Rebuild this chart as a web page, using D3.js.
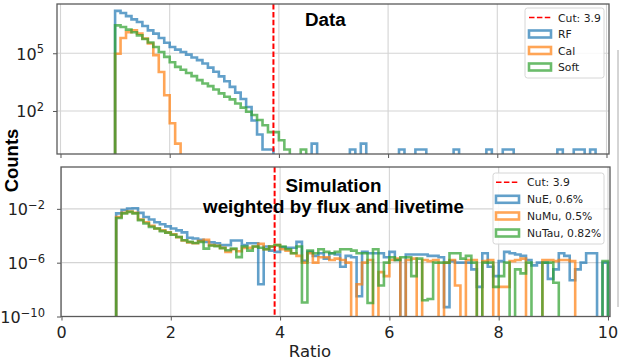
<!DOCTYPE html>
<html><head><meta charset="utf-8">
<script src="https://cdn.jsdelivr.net/npm/d3@7/dist/d3.min.js"></script>
<style>body{margin:0;background:#fff}svg{display:block}</style>
</head><body>
<svg id="chart" width="621" height="364"></svg>
<script>
// ---------------- data ----------------
// histogram bin left edges (bin width 0.1), from 1.0 to 9.9
const binEdges = d3.range(10, 101).map(i => i / 10);
const xTicks = [0, 2, 4, 6, 8, 10];
const topYTicks = [1e2, 1e5];
const botYTicks = [1e-10, 1e-6, 1e-2];
const cutValue = 3.9;

// Data panel (counts)
const rfCounts = [1.6e7,1.23e7,8.5e6,5.8e6,4.2e6,2.6e6,1.55e6,1.05e6,6.2e5,3.5e5,
  2.1e5,1.55e5,1.17e5,8.5e4,6.0e4,4.4e4,2.95e4,1.8e4,1.1e4,6300,
  3500,1800,900,420,160,32,6,1,1,0,
  0,0,0,0,0,0,2,0,0,0,
  0,0,0,1,0,2,0,0,0,0,
  0,0,1,0,0,1,1,0,0,0,
  0,0,1,0,0,0,0,0,1,0,
  0,1,1,0,0,0,0,0,0,0,
  0,1,0,0,1,1,0,1,0,0];
const calCounts = [9.5e4,6.2e5,1.26e6,1.55e6,1.05e6,5.8e5,3.2e5,8.0e4,1.07e4,660,
  23,2];
const softCounts = [2.8e6,2.3e6,1.7e6,1.23e6,8.5e5,5.5e5,3.6e5,2.1e5,1.17e5,6.5e4,
  3.4e4,1.95e4,1.4e4,9.5e3,6.5e3,4.0e3,2.7e3,1.95e3,1.3e3,820,
  550,400,245,150,91,62,34,18,8,8,
  3,1,0,0,1];

// Simulation panel (weighted counts)
const nueCounts = [4.6e-3,8.3e-3,1.05e-2,1.1e-2,5.0e-3,2.5e-3,1.6e-3,1.0e-3,7.1e-4,5.0e-4,
  3.5e-4,2.5e-4,1.8e-4,7.1e-5,6.3e-5,5.0e-5,3.5e-5,3.2e-5,2.8e-5,2.0e-5,
  2.0e-5,4.5e-5,4.5e-5,2.0e-5,2.8e-5,2.8e-5,2.5e-8,1.6e-5,7.9e-6,6.3e-6,
  1.4e-5,1.3e-5,1.3e-5,3.5e-5,1.4e-6,6.3e-6,3.2e-6,5.0e-6,2.0e-6,5.0e-6,
  4.0e-6,5.0e-7,3.2e-6,2.5e-6,3.2e-9,6.3e-6,5.0e-6,5.0e-6,5.0e-6,2.5e-6,
  6.3e-6,1.6e-6,0,4.0e-6,4.0e-6,4.0e-6,4.0e-6,3.2e-6,3.2e-6,2.5e-6,
  5.0e-10,1.3e-6,1.0e-6,1.0e-6,1.0e-6,3.2e-7,1.6e-8,5.0e-6,5.0e-7,1.0e-7,
  1.3e-6,6.3e-6,5.0e-6,4.0e-6,3.2e-6,1.6e-6,6.3e-7,1.0e-6,1.0e-6,6.3e-8,
  3.2e-7,5.0e-6,3.2e-6,5.0e-8,3.2e-7,1.0e-6,5.0e-6,5.0e-6,0,1.0e-6];
const numuCounts = [2.5e-3,5.0e-3,6.3e-3,5.0e-3,1.6e-3,1.0e-3,5.6e-4,3.5e-4,2.5e-4,1.8e-4,
  1.26e-4,7.9e-5,4.5e-5,3.2e-5,2.8e-5,4.0e-5,5.0e-5,2.0e-5,1.8e-5,1.26e-5,
  6.3e-6,1.0e-5,7.1e-6,1.26e-5,1.26e-5,1.6e-5,2.5e-5,1.0e-5,1.6e-5,2.0e-5,
  1.0e-5,7.9e-6,5.0e-6,3.2e-6,1.0e-6,5.0e-6,1.0e-6,2.5e-6,2.5e-6,1.6e-6,
  2.0e-6,1.6e-6,1.0e-6,0,2.5e-8,1.0e-6,1.6e-6,0,2.0e-7,1.0e-7,
  1.6e-6,2.0e-6,0,1.6e-6,2.0e-6,0,1.6e-6,1.3e-6,1.6e-6,0,
  1.0e-6,1.6e-6,2.0e-8,0,1.6e-6,1.6e-6,0,1.3e-6,1.6e-6,0,
  1.6e-8,1.6e-8,1.3e-6,1.6e-6,2.0e-6,0,0,0,1.6e-6,1.6e-6,
  1.3e-6,1.6e-6,1.6e-6,1.3e-6,0,0,0,0,0,0];
const nutauCounts = [2.1e-3,4.6e-3,6.0e-3,4.6e-3,1.45e-3,8.1e-4,4.6e-4,3.5e-4,2.2e-4,1.7e-4,
  1.2e-4,8.1e-5,4.6e-5,3.5e-5,2.9e-5,3.5e-5,1.1e-5,1.9e-5,1.7e-5,1.2e-5,
  8.3e-6,1.1e-5,2.6e-6,1.6e-5,7.9e-6,1.6e-5,1.3e-5,1.0e-5,1.6e-5,2.0e-5,
  1.6e-5,1.0e-5,5.0e-6,1.6e-5,1.1e-9,7.9e-6,5.0e-6,1.0e-5,6.3e-6,5.0e-6,
  6.3e-6,1.0e-5,1.0e-5,7.9e-6,5.0e-6,5.0e-6,1.0e-9,1.0e-5,2.0e-8,1.0e-6,
  2.5e-6,1.6e-6,2.5e-6,2.5e-6,1.0e-7,2.0e-6,1.6e-9,2.0e-9,1.0e-6,1.0e-6,
  1.0e-6,5.0e-6,5.0e-6,2.0e-6,3.2e-6,1.0e-6,0,1.0e-6,1.0e-6,1.6e-8,
  1.0e-7,1.0e-6,0,3.2e-7,1.6e-7,1.0e-6,0,0,1.0e-6,1.0e-6,
  3.2e-8,0,0,0,0,0,0,0,0,1.3e-6];

const topSeries = [
  {name: "RF", values: rfCounts, color: "#1f77b4"},
  {name: "Cal", values: calCounts, color: "#ff7f0e"},
  {name: "Soft", values: softCounts, color: "#2ca02c"}
];
const botSeries = [
  {name: "NuE, 0.6%", values: nueCounts, color: "#1f77b4"},
  {name: "NuMu, 0.5%", values: numuCounts, color: "#ff7f0e"},
  {name: "NuTau, 0.82%", values: nutauCounts, color: "#2ca02c"}
];

// ---------------- drawing ----------------
const svg = d3.select("#chart");
const tickFont = "'DejaVu Sans', sans-serif";

function sup(t, base, exp) {
  t.append("tspan").text(base);
  t.append("tspan").attr("font-size", 11.5).attr("dy", -6.5).text(exp);
}

function panel(cfg) {
  const g = svg.append("g");
  const x = d3.scaleLinear().domain(cfg.xd).range([cfg.x0, cfg.x1]);
  const y = d3.scaleLog().domain(cfg.yd).range([cfg.y1, cfg.y0]);
  const id = "clip" + cfg.id;
  svg.append("clipPath").attr("id", id).append("rect")
    .attr("x", cfg.x0).attr("y", cfg.y0).attr("width", cfg.x1 - cfg.x0).attr("height", cfg.y1 - cfg.y0);

  // grid
  const grid = g.append("g").attr("stroke", "#d4d4d4").attr("stroke-width", 1.1);
  xTicks.forEach(t => grid.append("line").attr("x1", x(t)).attr("x2", x(t)).attr("y1", cfg.y0).attr("y2", cfg.y1));
  cfg.yTicks.forEach(t => grid.append("line").attr("x1", cfg.x0).attr("x2", cfg.x1).attr("y1", y(t)).attr("y2", y(t)));

  // histograms
  const floorY = cfg.y1 + 20;
  const data = g.append("g").attr("clip-path", `url(#${id})`);
  cfg.series.forEach(s => {
    const yy = v => v > 0 ? y(v) : floorY;
    let p = `M${x(binEdges[0])},${floorY}`;
    s.values.forEach((v, i) => { p += `V${yy(v)}H${x(binEdges[i + 1])}`; });
    p += `V${floorY}`;
    data.append("path").attr("d", p).attr("fill", "none").attr("stroke", s.color)
      .attr("stroke-opacity", 0.7).attr("stroke-width", 2.6).attr("stroke-linejoin", "miter");
  });
  // cut line
  data.append("line").attr("x1", x(cutValue)).attr("x2", x(cutValue)).attr("y1", cfg.y0).attr("y2", cfg.y1)
    .attr("stroke", "#ff0000").attr("stroke-width", 2).attr("stroke-dasharray", "5.5,2.4");

  // axes (tick marks)
  g.append("g").attr("transform", `translate(0,${cfg.y1})`)
    .call(d3.axisBottom(x).tickValues(xTicks).tickSize(4).tickFormat(""))
    .call(a => a.select(".domain").remove())
    .selectAll("line").attr("stroke", "#555");
  g.append("g").attr("transform", `translate(${cfg.x0},0)`)
    .call(d3.axisLeft(y).tickValues(cfg.yTicks).tickSize(4).tickFormat(""))
    .call(a => a.select(".domain").remove())
    .selectAll("line").attr("stroke", "#555");

  // spines
  g.append("rect").attr("x", cfg.x0).attr("y", cfg.y0).attr("width", cfg.x1 - cfg.x0).attr("height", cfg.y1 - cfg.y0)
    .attr("fill", "none").attr("stroke", "#5a5a5a").attr("stroke-width", 1.3);

  // y tick labels
  cfg.yTicks.forEach(t => {
    const e = Math.round(Math.log10(t));
    const tx = g.append("text").attr("x", cfg.labelX).attr("y", y(t) + 6.5)
      .attr("text-anchor", "end").attr("font-family", tickFont).attr("font-size", 16).attr("fill", "#222");
    sup(tx, "10", e < 0 ? "\u2212" + Math.abs(e) : String(e));
  });
  if (cfg.xLabels) {
    xTicks.forEach(t => g.append("text").attr("x", x(t)).attr("y", 338).attr("text-anchor", "middle")
      .attr("font-family", tickFont).attr("font-size", 16).attr("fill", "#222").text(t));
  }

  // legend
  const L = cfg.legend;
  const lg = g.append("g");
  lg.append("rect").attr("x", L.x).attr("y", L.y).attr("width", L.w).attr("height", L.h).attr("rx", 2.5)
    .attr("fill", "#fff").attr("fill-opacity", 0.85).attr("stroke", "#d6d6d6").attr("stroke-width", 1);
  const rows = [{name: "Cut: " + cutValue, cut: true}].concat(cfg.series);
  rows.forEach((r, i) => {
    const cy = L.rowY[i];
    if (r.cut) {
      lg.append("line").attr("x1", L.hx).attr("x2", L.hx + L.hw).attr("y1", cy).attr("y2", cy)
        .attr("stroke", "#ff0000").attr("stroke-width", 1.6).attr("stroke-dasharray", "5.5,2.4");
    } else {
      lg.append("rect").attr("x", L.hx).attr("y", cy - 3.5).attr("width", L.hw).attr("height", 7)
        .attr("fill", "none").attr("stroke", r.color).attr("stroke-opacity", 0.7).attr("stroke-width", 2.6);
    }
    lg.append("text").attr("x", L.tx).attr("y", cy + 4).attr("font-family", tickFont).attr("font-size", 10.8)
      .attr("fill", "#222").text(r.name);
  });
  return {x, y};
}

panel({id: "top", x0: 57, x1: 609, y0: 4, y1: 154, xd: [-0.064, 10.046],
  yd: [Math.pow(10, -0.236), Math.pow(10, 7.56)], yTicks: topYTicks, series: topSeries, labelX: 44,
  legend: {x: 525, y: 8, w: 79, h: 70, rowY: [17.5, 34, 50.5, 67], hx: 529, hw: 22, tx: 558}});
panel({id: "bot", x0: 61, x1: 610, y0: 167, y1: 316.5, xd: [-0.009, 10.037],
  yd: [1e-10, Math.pow(10, 1.11)], yTicks: botYTicks, series: botSeries, labelX: 45, xLabels: true,
  legend: {x: 493, y: 173, w: 111, h: 71, rowY: [182.3, 199.3, 216, 233], hx: 496, hw: 23, tx: 527}});

// annotations
const bold = "'Liberation Sans', Arial, sans-serif";
svg.append("text").attr("x", 305).attr("y", 26).attr("font-family", bold).attr("font-weight", "bold")
  .attr("font-size", 18.8).text("Data");
svg.append("text").attr("x", 333.5).attr("y", 191.5).attr("text-anchor", "middle").attr("font-family", bold)
  .attr("font-weight", "bold").attr("font-size", 18.8).text("Simulation");
svg.append("text").attr("x", 333.5).attr("y", 213).attr("text-anchor", "middle").attr("font-family", bold)
  .attr("font-weight", "bold").attr("font-size", 18.8).text("weighted by flux and livetime");

// axis titles
svg.append("text").attr("x", 310).attr("y", 357).attr("text-anchor", "middle").attr("font-family", tickFont)
  .attr("font-size", 16.5).attr("fill", "#222").text("Ratio");
svg.append("text").attr("transform", "translate(18,160.5) rotate(-90)").attr("text-anchor", "middle")
  .attr("font-family", bold).attr("font-weight", "bold").attr("font-size", 18.5).text("Counts");

// neighbouring frame edge on the right
svg.append("line").attr("x1", 618).attr("x2", 618).attr("y1", 50).attr("y2", 307)
  .attr("stroke", "#aaa").attr("stroke-width", 1);
</script>
</body></html>
